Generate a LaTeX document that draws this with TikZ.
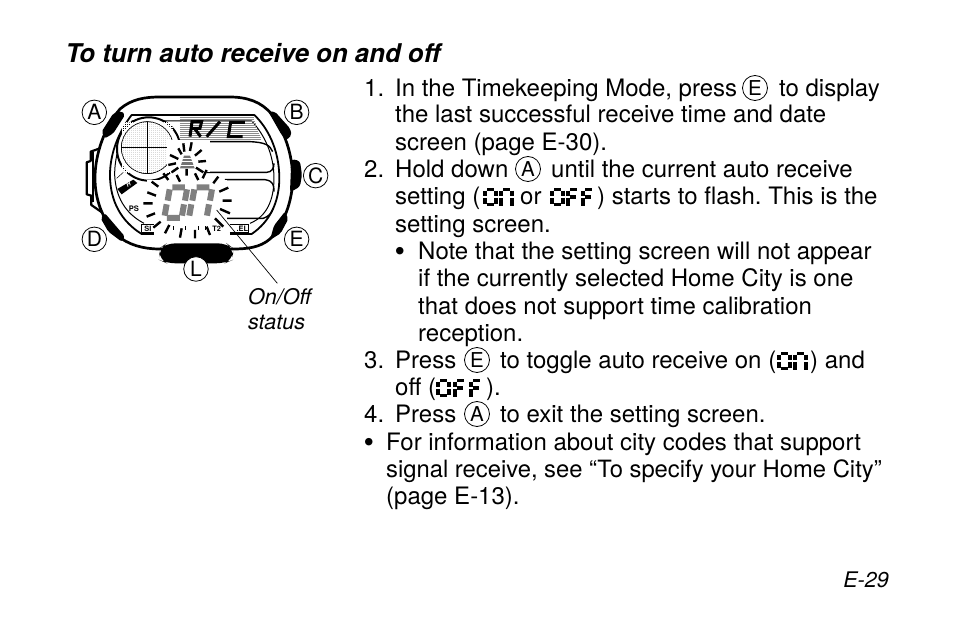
\documentclass[tikz,border=0pt]{standalone}
\usepackage{fontspec}
\setmainfont{TeX Gyre Heros}
\frenchspacing
\begin{document}
\begin{tikzpicture}[x=1pt,y=-1pt,
  txt/.style={anchor=base west,inner sep=0pt,font=\fontsize{24}{27}\selectfont},
  bul/.style={anchor=base west,inner sep=0pt,font=\fontsize{30}{30}\selectfont},
  note/.style={anchor=base west,inner sep=0pt,font=\fontsize{21.5}{25}\selectfont\itshape},
  ttl/.style={anchor=base west,inner sep=0pt,font=\fontsize{25.8}{27}\selectfont\bfseries\itshape},
  cl/.style={circle,draw=black,line width=0.8pt,minimum size=25pt,inner sep=0pt,font=\fontsize{20.5}{20}\selectfont},
  clw/.style={circle,draw=black,line width=0.8pt,minimum size=24.5pt,inner sep=0pt,font=\fontsize{21}{21}\selectfont,fill=white},
  case/.style={draw=black,line width=2.7pt,line join=round},
  thin1/.style={draw=black,line width=1pt,line join=round},
  ray/.style={draw=black,line width=2.4pt},
  seg/.style={draw=black,line width=3.3pt},
  bigseg/.style={draw=black!50,line width=6pt},
  lcdo/.pic={\path[seg] (2,0)--(9,0) (0,1)--(0,6.7) (11,1)--(11,6.7) (0,8.3)--(0,14) (11,8.3)--(11,14) (2,15)--(9,15);},
  lcdn/.pic={\path[seg] (2,0)--(9,0) (0,1)--(0,6.7) (11,1)--(11,6.7) (0,8.3)--(0,16) (11,8.3)--(11,16);},
  lcdf/.pic={\path[seg] (2,0)--(9,0) (0,1)--(0,6.7) (2,7.5)--(8,7.5) (0,8.3)--(0,16);},
]
\useasboundingbox[fill=white] (0,0) rectangle (954,634);

% watch, traced in zoomed coordinates
\begin{scope}[shift={(70,85)},x=0.3333pt,y=-0.3333pt]
  % crown
  \path[thin1,fill=white,line width=2.2pt] (90,190)--(62,200)--(62,228)--(50,232)--(50,328)--(64,332)--(64,360)--(100,385);
  \path[thin1,line width=2pt] (70,200)--(70,350);
  % case
  \path[case,fill=white] (150,72) .. controls (185,42) and (225,36) .. (270,36)
    -- (480,36) .. controls (530,36) and (575,50) .. (605,88)
    .. controls (645,140) and (668,210) .. (668,280)
    .. controls (668,350) and (640,420) .. (600,462)
    .. controls (570,488) and (530,492) .. (490,492)
    -- (268,492) .. controls (220,492) and (175,480) .. (140,450)
    .. controls (95,400) and (75,340) .. (75,280)
    .. controls (75,205) and (105,125) .. (150,72) -- cycle;
  % buttons
  \fill[black,rounded corners=2pt] (95,140)--(105,160)--(130,145)--(165,90)--(155,78)--(130,85)--cycle;
  \fill[black,rounded corners=2pt] (595,80)--(615,80)--(660,130)--(665,150)--(650,165)--(635,150)--cycle;
  \fill[black,rounded corners=3pt] (664,222)--(690,228)--(696,270)--(690,305)--(660,322)--cycle;
  \fill[black,rounded corners=2pt] (92,400)--(105,385)--(165,455)--(155,470)--(115,440)--cycle;
  \fill[black,rounded corners=2pt] (612,422)--(645,380)--(655,402)--(632,445)--(600,465)--cycle;
  \fill[black,rounded corners=9pt] (268,490)--(290,475)--(470,475)--(490,490)--(488,525)--(465,535)--(290,535)--(268,525)--cycle;
  % bezel
  \path[case,line width=1.8pt] (185,90) -- (553,90) .. controls (590,125) and (628,190) .. (628,280)
    .. controls (628,350) and (600,410) .. (545,447)
    -- (215,447) .. controls (155,410) and (120,350) .. (120,270)
    .. controls (120,200) and (150,135) .. (185,90) -- cycle;
  \path[thin1] (185,108) -- (545,108) .. controls (580,145) and (612,205) .. (612,280)
    .. controls (612,345) and (590,395) .. (540,415);
  \path[thin1] (222,415) .. controls (165,385) and (137,335) .. (134,270) .. controls (134,215) and (150,165) .. (175,120);
  % top panel
  \foreach \yy in {96,102,...,166} {\draw[black!45,line width=0.25pt] (330,\yy) -- ({550+(\yy-94)*0.35},\yy);}
  \path[thin1,line width=1.4pt] (370,170) -- (540,170) .. controls (585,172) and (600,180) .. (608,200);
  \path[thin1,line width=1.4pt] (410,262) -- (590,262) .. controls (605,262) and (612,250) .. (612,235);
  \path[thin1,line width=1.4pt] (465,284) -- (585,284) .. controls (610,288) and (612,300) .. (612,320);
  \path[thin1,line width=1.4pt] (470,400) -- (580,400) .. controls (595,395) and (605,385) .. (610,370);
  % R/C
  \path[draw=black,line width=3pt] (360,155)--(366,110)--(395,110)--(390,130)--(362,130) (375,132)--(392,155);
  \path[draw=black,line width=3pt] (410,155)--(450,110);
  \path[draw=black,line width=3pt] (525,112)--(482,112)--(475,155)--(518,155);
  % dial
  \path[draw=black,line width=2pt,fill=white] (236,192) circle (95);
  \path[draw=black,line width=0.5pt,fill=black!15] (232,188) circle (78);
  \foreach \yy in {114,120,...,262} {\draw[white,line width=0.4pt] (155,\yy)--(310,\yy);}
  \foreach \xx in {158,164,...,306} {\draw[white,line width=0.4pt] (\xx,112)--(\xx,264);}
  \draw[black,line width=0.6pt] (232,110)--(232,266) (154,188)--(310,188);
  \draw[black,line width=0.6pt] (232,188) circle (78);
  \fill[white] (292,165) rectangle (420,262);
  \fill[white] (230,284) rectangle (470,445);
  % H tag
  \fill[black] (142,312)--(190,284)--(202,294)--(155,328)--cycle;
  \node[font=\fontsize{6}{6}\selectfont\bfseries\itshape,text=white,inner sep=0pt,rotate=30] (htag) at (175,300) {H};
  \path[thin1,line width=0.5pt] (140,280)--(160,262);
  \node[font=\fontsize{7.6}{8}\selectfont\bfseries,inner sep=0pt] (ps) at (192,372) {PS};
  % bottom bar
  \path[thin1,line width=1.2pt] (215,418) rectangle (536,442);
  \fill[white] (252,412) rectangle (480,450);
  \node[font=\fontsize{7.4}{8}\selectfont\bfseries,inner sep=0pt] (si) at (234,430) {SI};
  \node[font=\fontsize{7.4}{8}\selectfont\bfseries,inner sep=0pt] (el) at (517,430) {.EL};
  \node[font=\fontsize{7.4}{8}\selectfont\bfseries,inner sep=0pt] (mid1) at (440,430) {T2};
  \draw[black,line width=0.9pt] (310,424)--(310,436) (345,424)--(345,436) (385,424)--(385,436) (405,424)--(405,436);
  \path[thin1,line width=1.2pt] (215,442)--(252,442) (480,442)--(536,442) (480,418)--(536,418) (215,418)--(252,418);
  % big digits
  \path[bigseg] (307,307)--(345,307) (299,313)--(293,347) (351,313)--(345,347) (290,358)--(284,392) (342,358)--(336,392) (291,399)--(330,399);
  \path[bigseg] (380,307)--(418,307) (373,313)--(367,347) (426,313)--(420,347) (364,358)--(358,392) (417,358)--(411,392);
  % small flashing mark
  \fill[black!55] (342,212)--(360,212)--(374,250)--(330,250)--cycle;
  \foreach \yy in {220,230,240} {\draw[white,line width=0.8pt] (325,\yy)--(380,\yy);}
  % rays
  \path[ray] (232,322)--(258,332) (220,355)--(248,355) (230,395)--(255,385) (250,428)--(272,410)
    (285,445)--(298,420) (330,458)--(335,430) (375,460)--(375,435) (420,450)--(410,425)
    (460,425)--(435,400) (480,385)--(450,372) (485,347)--(458,347) (475,308)--(448,320)
    (445,275)--(430,295) (410,255)--(398,280) (375,265)--(385,285) (320,270)--(330,290)
    (280,265)--(295,285) (245,290)--(265,305);
  \path[ray] (340,175)--(343,200) (365,172)--(360,198) (395,195)--(375,212) (408,228)--(385,230)
    (400,262)--(378,248) (350,272)--(350,252) (305,262)--(325,248) (295,240)--(318,235)
    (300,210)--(325,222) (325,190)--(335,208);
  % leader
  \coordinate (leadA) at (440,375);
  \coordinate (leadB) at (622,595);
  \draw[black,line width=0.7pt] (leadA)--(leadB);
  % button letters
  \node[clw] (wa) at (73,82) {A};
  \node[clw] (wb) at (680,82) {B};
  \node[clw] (wc) at (737,272) {C};
  \node[clw] (wd) at (73,463) {D};
  \node[clw] (we) at (680,463) {E};
  \node[clw] (wl) at (378,552) {L};
\end{scope}

% title, notes
\node[ttl] (title) at (65.5,63) {To turn auto receive on and off};
\node[note] (on) at (248,304) {On/Off};
\node[note] (st) at (248,329) {status};
\node[note,anchor=base east] (pg) at (889,587) {E-29};

% text
\node[txt] (n1) at (364,96) {1.};
\node[txt] (l1a) at (395,96) {In the Timekeeping Mode, press};
\node[cl] (c1) at (755,88) {E};
\node[txt] (l1b) at (779,96) {to display};
\node[txt] (l2) at (395,123) {the last successful receive time and date};
\node[txt] (l3) at (395,150) {screen (page E-30).};
\node[txt] (n2) at (364,177) {2.};
\node[txt] (l4a) at (395,177) {Hold down};
\node[cl] (c2) at (528,169) {A};
\node[txt] (l4b) at (551,177) {until the current auto receive};
\node[txt] (l5a) at (395,204) {setting (};
\pic at (485,189.5) {lcdo}; \pic at (501,189.5) {lcdn};
\node[txt] (l5b) at (520,204) {or};
\pic at (552,189.5) {lcdo}; \pic at (568,189.5) {lcdf}; \pic at (583,189.5) {lcdf};
\node[txt] (l5c) at (597,204) {) starts to flash. This is the};
\node[txt] (l6) at (395,232) {setting screen.};
\node[bul] (b1) at (394.5,261) {•};
\node[txt] (l7) at (418,259) {Note that the setting screen will not appear};
\node[txt] (l8) at (418,286) {if the currently selected Home City is one};
\node[txt] (l9) at (418,314) {that does not support time calibration};
\node[txt] (l10) at (418,341) {reception.};
\node[txt] (n3) at (364,368) {3.};
\node[txt] (l11a) at (395,368) {Press};
\node[cl] (c3) at (477,360) {E};
\node[txt] (l11b) at (500,368) {to toggle auto receive on (};
\pic at (779,353.5) {lcdo}; \pic at (795,353.5) {lcdn};
\node[txt] (l11c) at (810,368) {) and};
\node[txt] (l12a) at (395,395) {off (};
\pic at (438,380.5) {lcdo}; \pic at (455,380.5) {lcdf}; \pic at (471,380.5) {lcdf};
\node[txt] (l12b) at (486,395) {).};
\node[txt] (n4) at (364,422) {4.};
\node[txt] (l13a) at (395,422) {Press};
\node[cl] (c4) at (477,414) {A};
\node[txt] (l13b) at (500,422) {to exit the setting screen.};
\node[bul] (b2) at (363.5,452) {•};
\node[txt] (l14) at (386,450) {For information about city codes that support};
\node[txt,font=\fontsize{23.8}{27}\selectfont] (l15) at (386,477) {signal receive, see “To specify your Home City”};
\node[txt] (l16) at (386,504) {(page E-13).};
\end{tikzpicture}
\end{document}
